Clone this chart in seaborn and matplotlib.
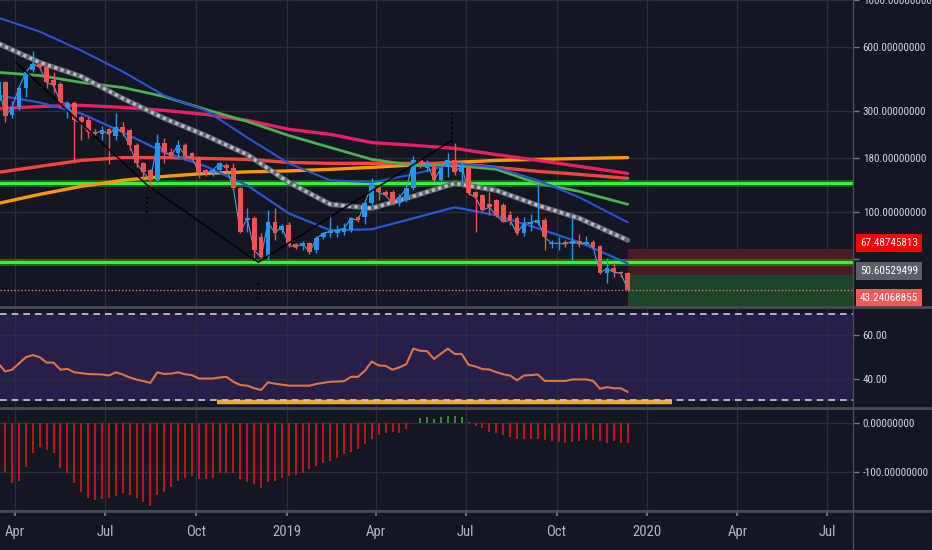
import matplotlib
matplotlib.use("Agg")
import matplotlib.pyplot as plt
import matplotlib.dates as mdates
from matplotlib.lines import Line2D
from matplotlib.ticker import NullLocator
import seaborn as sns
import pandas as pd

# ---- data (weekly candles) ----
bar_dates = pd.date_range("2018-03-15", periods=92, freq="7D")

opens = [336, 409, 286, 312, 383, 466, 497, 481, 418, 404,
         302, 329, 280, 271, 240, 235, 246, 230, 251, 243,
         207, 170, 157.6, 141.5, 213, 191.5, 189.5, 207, 189.5, 181,
         157.6, 152.5, 157.6, 166.4, 161, 129.7, 91.7, 93.7, 76.3, 61.4,
         89.7, 82.3, 86.9, 70.7, 69.2, 71.5, 66.3, 76.3, 79.7, 79.7,
         80.5, 82.3, 94.7, 94.7, 110.2, 131, 124.2, 124.2, 110.2, 113.9,
         129.7, 175.6, 161, 166.4, 141.5, 162.8, 175.6, 154.2, 161, 124.2,
         120.2, 109.1, 113.9, 107.9, 96.8, 93.7, 79.7, 87.8, 88.8, 91.7,
         70.7, 70.7, 72.3, 70.7, 73.1, 70.7, 72.3, 69.2, 51.6, 54.5,
         52.2, 51.6]
highs = [430, 415, 336, 395, 470, 578, 505, 490, 456, 410,
         336, 335, 286, 280, 246, 255, 250, 295, 265, 248,
         211, 172, 160, 235, 225, 200, 218, 211, 193, 185,
         160, 160, 172, 170, 170, 132, 104.4, 96, 80, 102.2,
         104.4, 88, 90, 72, 73.1, 72.5, 77, 81, 96.8, 86.9,
         88.8, 95.5, 96, 113, 145, 135.4, 127, 128, 122, 131,
         185, 178, 175.6, 172, 165, 189.5, 211, 172, 163, 126,
         122, 124.2, 116, 111, 101, 96, 95, 98, 135.4, 93.7,
         74, 76.3, 74, 93.7, 79, 77, 74, 70, 61, 57.5,
         53, 52.5]
lows = [320, 265, 277, 302, 348, 456, 470, 387, 363, 312,
        277, 170, 218, 225, 230, 218, 168, 218, 230, 196,
        163, 141.5, 129.7, 138, 170, 180, 180, 176, 177, 145,
        148, 148, 155, 157, 127, 79.7, 80.5, 60.8, 58.2, 59.5,
        74, 80, 68.4, 67, 66.3, 63.5, 64, 75, 76.3, 76.3,
        78, 81, 90, 87.8, 108, 113.9, 118, 108, 106.7, 112,
        127, 162, 154, 139, 139, 146, 150, 138, 121, 80.5,
        100, 96.8, 95, 92, 86.9, 78.5, 77, 82, 86.9, 66.3,
        68, 66.3, 69, 59.5, 68.4, 70, 67, 51, 46.4, 49.6,
        49.6, 42.5]
closes = [409, 283, 312, 387, 456, 502, 481, 409, 396, 329,
          326, 271, 265, 238, 235, 243, 233, 251, 238, 207,
          170, 154, 141.5, 213, 191.5, 185, 207, 185, 181, 154,
          152.5, 157.6, 170, 161, 129.7, 80.5, 93.7, 66.3, 61.4, 89.7,
          79.7, 85.9, 70.0, 68.4, 71.5, 64.8, 75.5, 79.7, 81.4, 82.3,
          84.1, 93.7, 91.7, 110.2, 135.4, 124.2, 120.2, 110.2, 117.6, 129.7,
          175.6, 170, 170, 141.5, 161, 175.6, 154.2, 166.4, 122.8, 117.6,
          102.2, 105.6, 96.8, 90, 91.7, 79.7, 88.8, 89.7, 91.7, 76.3,
          71.5, 71.5, 70.7, 73.1, 70.7, 72.3, 68.4, 51.9, 54.5, 52.2,
          51.6, 43.24]

# moving averages, sampled every 6 weeks
ma_idx = [0, 6, 12, 18, 24, 30, 36, 42, 48, 54, 60, 66, 72, 78, 84, 91]
ma_blue_top = [826, 710, 578, 460, 355, 302, 225, 170, 141.5, 138.4, 151, 170, 162.8, 141.5, 117.6, 89.7]
ma_blue_low = [355, 329, 292, 238, 191.5, 164.6, 134, 98.9, 82.3, 83.2, 93.7, 105.6, 96.8, 84.1, 72.3, 57.5]
ma_grey = [624, 508, 436, 344, 277, 230, 187, 138.4, 109.1, 104.4, 119, 136.9, 126.9, 107.9, 93.7, 73.9]
ma_green = [456, 441, 409, 387, 351, 305, 268, 230, 202, 177.5, 166.4, 166.4, 159.4, 136.9, 125.5, 109.1]
ma_pink = [308, 315, 319, 312, 302, 289, 271, 246, 233, 213, 207, 200, 187, 175.6, 164.6, 152.5]
ma_red = [154.2, 164.6, 175.6, 181, 181, 179.3, 177.5, 171.8, 170, 170, 170, 170, 162.8, 155.9, 150.9, 144.6]
ma_orange = [110.2, 121.5, 132.5, 141.5, 147.6, 152.5, 155, 156.7, 159.4, 162.8, 167.2, 171.8, 175.6, 177.5, 179.3, 181]

support_levels = [136.9, 58.2]
trend_dates = ["2018-04-02", "2018-08-13", "2018-12-03", "2019-06-17"]
trend_prices = [508, 134, 58.2, 218]

stop_price = 67.48745813
entry_price = 50.60529499
last_price = 43.24068855
target_price = 33.0

rsi = [47.1, 43.3, 44.1, 47.0, 49.9, 50.9, 49.9, 47.4, 47.4, 44.1,
       44.5, 42.9, 42.5, 42.1, 42.0, 41.9, 41.4, 42.9, 41.9, 40.5,
       39.5, 38.8, 38.0, 42.9, 42.1, 42.3, 42.9, 42.0, 41.6, 40.0,
       40.0, 40.0, 40.5, 40.8, 38.5, 37.0, 36.7, 35.5, 34.7, 38.3,
       37.6, 37.2, 36.7, 36.7, 36.7, 36.7, 37.5, 38.0, 38.5, 38.6,
       38.8, 40.8, 40.8, 43.6, 47.9, 46.1, 45.9, 44.1, 45.2, 46.7,
       53.9, 52.9, 52.7, 49.1, 51.5, 53.9, 51.4, 51.4, 46.4, 45.6,
       44.4, 44.2, 43.0, 42.0, 41.4, 39.2, 41.4, 41.6, 41.9, 38.9,
       38.9, 38.9, 38.9, 39.6, 39.6, 39.6, 38.9, 35.3, 36.0, 35.5,
       35.5, 33.8]
rsi_band = [30, 70]
rsi_mark_dates = ["2018-10-22", "2020-01-26"]
rsi_mark_level = 29.3

hist = [-45, -100, -124, -120, -90, -62, -48, -55, -62, -93,
        -103, -124, -141, -155, -158, -157, -155, -150, -144, -148,
        -155, -162, -171, -148, -141, -131, -120, -113, -108, -114,
        -114, -113, -103, -102, -103, -116, -121, -126, -133, -122,
        -119, -113, -108, -106, -102, -94, -88, -81, -78, -71,
        -64, -60, -53, -43, -33, -25, -21, -18, -19, -12,
        1, 10, 12, 9, 13, 15, 15, 14, 3,
        -6, -10, -17, -21, -24, -29, -33, -33, -33, -33, -34, -37, -39, -40,
        -38, -37, -34, -34, -36, -40, -37, -40, -40]

tick_dates = ["2018-04-01", "2018-07-01", "2018-10-01", "2019-01-01", "2019-04-01",
              "2019-07-01", "2019-10-01", "2020-01-01", "2020-04-01", "2020-07-01"]
tick_labels = ["Apr", "Jul", "Oct", "2019", "Apr", "Jul", "Oct", "2020", "Apr", "Jul"]
price_ticks = [60, 100, 180, 300, 600, 1000]

# ---- style ----
BG = "#131722"
GRID = "#2a2e39"
TXT = "#d1d4dc"
SEP = "#474b57"
UP = "#2196f3"
DOWN = "#ef5350"
LABEL_SIZE = 8

sns.set_theme(style="dark", rc={"axes.facecolor": BG, "figure.facecolor": BG})
plt.rcParams["font.family"] = ["Roboto Condensed", "Liberation Sans Narrow", "Roboto", "DejaVu Sans"]

fig = plt.figure(figsize=(9.32, 5.5), dpi=100, facecolor=BG)
W = 853 / 932
ax = fig.add_axes([0, 1 - 306 / 550, W, 306 / 550])
ax_rsi = fig.add_axes([0, 1 - 407 / 550, W, 100 / 550])
ax_h = fig.add_axes([0, 1 - 510 / 550, W, 102 / 550])

xnum = mdates.date2num(bar_dates)
ma_x = xnum[ma_idx]
tick_x = mdates.date2num(pd.to_datetime(tick_dates))
x_left = mdates.date2num(pd.Timestamp("2018-04-01")) - 15.2
x_right = mdates.date2num(pd.Timestamp("2020-07-27"))

for a in (ax, ax_rsi, ax_h):
    a.set_facecolor(BG)
    a.set_xlim(x_left, x_right)
    a.set_xticks(tick_x)
    for s in a.spines.values():
        s.set_visible(False)
    a.grid(True, color=GRID, lw=1)
    a.tick_params(axis="y", left=False, right=True, labelleft=False, labelright=True,
                  colors="#787b86", labelcolor=TXT, labelsize=LABEL_SIZE, length=4, width=1, pad=3)
    a.yaxis.set_label_position("right")
    a.set_axisbelow(True)

# ---- main price panel ----
ax.set_yscale("log")
ax.set_ylim(36.2, 1000)
ax.yaxis.set_minor_locator(NullLocator())
ax.set_yticks(price_ticks)
ax.set_yticklabels(["" if v == 60 else f"{v:.8f}" for v in price_ticks])
ax.tick_params(axis="x", bottom=False, labelbottom=False)

# position tool zones
ax.fill_between([xnum[-1], x_right], entry_price, stop_price, color="#4a1c25", lw=0, zorder=1)
ax.fill_between([xnum[-1], x_right], target_price, entry_price, color="#1d4328", lw=0, zorder=1)

for lvl in support_levels:
    ax.axhline(lvl, color="#1f9d1f", lw=5, alpha=0.55, zorder=2)
    ax.axhline(lvl, color="#2cff2c", lw=2.2, zorder=2)

ma_styles = [
    (ma_orange, "#ff9800", 2.4),
    (ma_red, "#f1453d", 2.4),
    (ma_pink, "#e91e63", 2.4),
    (ma_green, "#4caf50", 2.0),
    (ma_blue_top, "#2a50dc", 1.5),
    (ma_blue_low, "#2757d6", 1.6),
]
for vals, col, lw in ma_styles:
    sns.lineplot(x=ma_x, y=vals, ax=ax, color=col, linewidth=lw, zorder=3)
sns.lineplot(x=ma_x, y=ma_grey, ax=ax, color="#5f6570", linewidth=3.8, zorder=3)
sns.lineplot(x=ma_x, y=ma_grey, ax=ax, color="#b9bcc2", linewidth=2.4,
             linestyle=(0, (1, 1)), zorder=3)

sns.lineplot(x=xnum, y=closes, ax=ax, color="#46a0d8", linewidth=0.8, zorder=4)

colors = [UP if c >= o else DOWN for o, c in zip(opens, closes)]
bottoms = [min(o, c) for o, c in zip(opens, closes)]
heights = [max(abs(c - o), c * 0.012) for o, c in zip(opens, closes)]
ax.vlines(xnum, lows, highs, colors=colors, lw=1, zorder=5)
ax.bar(xnum, heights, bottom=bottoms, width=4.8, color=colors, lw=0, zorder=6)

# drawings
trend_x = mdates.date2num(pd.to_datetime(trend_dates))
ax.plot(trend_x, trend_prices, color="#000000", lw=1.3, alpha=0.85, zorder=7)
ax.vlines(trend_x[1:], [118, 46.4, 211], [94.7, 38.6, 302], colors="#000000",
          lw=1.3, linestyles=":", zorder=7)

ax.axhline(last_price, color="#e57373", lw=1, ls=(0, (1, 1.5)), zorder=7)

# right side price labels
for price, fc, dy in [(stop_price, "#ff0000", 4), (entry_price, "#5d5f66", 3), (last_price, "#f05a5a", -6)]:
    ax.annotate(f"{price:.8f}", xy=(1.0, price), xycoords=("axes fraction", "data"),
                xytext=(5, dy), textcoords="offset points", va="center", ha="left",
                color="white", fontsize=LABEL_SIZE, annotation_clip=False,
                bbox=dict(boxstyle="square,pad=0.35", fc=fc, ec="none"))

# ---- RSI panel ----
ax_rsi.set_ylim(26.8, 73.2)
ax_rsi.set_yticks([40, 60])
ax_rsi.set_yticklabels(["40.00", "60.00"])
ax_rsi.tick_params(axis="x", bottom=False, labelbottom=False)
ax_rsi.axhspan(rsi_band[0], rsi_band[1], color="#281e4b", zorder=0)
mark_x = mdates.date2num(pd.to_datetime(rsi_mark_dates))
ax_rsi.plot(mark_x, [rsi_mark_level] * 2, color="#f5a623", lw=3.2, solid_capstyle="butt", zorder=2)
for lvl in rsi_band:
    ax_rsi.axhline(lvl, color="#c9cbd6", lw=1.2, ls=(0, (4, 3)), zorder=3)
sns.lineplot(x=xnum, y=rsi, ax=ax_rsi, color="#de7440", linewidth=1.5, zorder=4)

# ---- histogram panel ----
ax_h.set_ylim(-179, 31.6)
ax_h.set_yticks([-100, 0])
ax_h.set_yticklabels(["-100.00000000", "0.00000000"])
hcolors = ["#2aa02a" if v > 0 else "#d01616" for v in hist]
ax_h.vlines(xnum, 0, hist, colors=hcolors, lw=1.3, zorder=3)
ax_h.set_xticklabels(tick_labels)
ax_h.tick_params(axis="x", bottom=True, labelbottom=True, colors="#787b86",
                 labelcolor="#b2b5be", labelsize=10.5, length=4, pad=7)

# panel separators
for yy in (306.5, 407.5, 510.5):
    fig.add_artist(Line2D([0, 1], [1 - yy / 550] * 2, transform=fig.transFigure, color=SEP, lw=2))
fig.add_artist(Line2D([W, W], [0, 1], transform=fig.transFigure, color=SEP, lw=1))

plt.savefig("out.png", dpi=100, facecolor=BG)
